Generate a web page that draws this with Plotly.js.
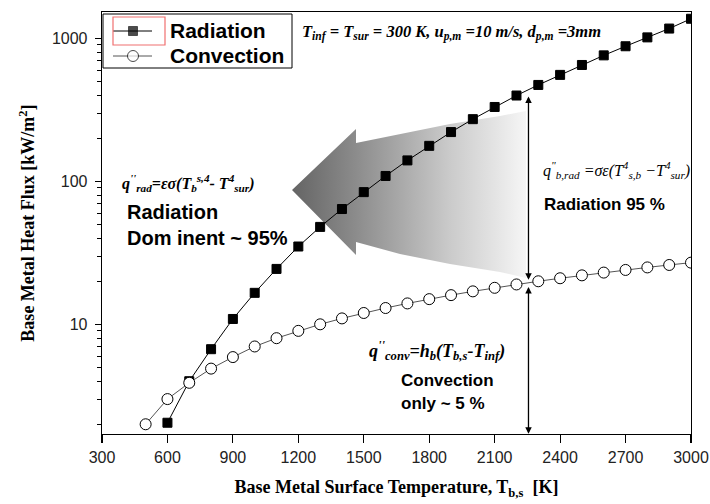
<!DOCTYPE html>
<html><head><meta charset="utf-8">
<script src="https://cdn.plot.ly/plotly-3.0.1.min.js"></script>
<style>html,body{margin:0;padding:0;background:#fff}#chart{width:710px;height:504px}</style>
</head><body><div id="chart"></div>
<script>
// ---- data ----
const radTemps = [600,700,800,900,1000,1100,1200,1300,1400,1500,1600,1700,1800,1900,2000,2100,2200,2300,2400,2500,2600,2700,2800,2900,3000];
const radFlux  = [2.05,4.0,6.7,10.9,16.6,24.4,35,48,64,84,109,140,177,221,272,331,398,472,555,651,760,880,1015,1170,1370];
const convTemps = [500,600,700,800,900,1000,1100,1200,1300,1400,1500,1600,1700,1800,1900,2000,2100,2200,2300,2400,2500,2600,2700,2800,2900,3000];
const convFlux  = [2,3,3.9,4.9,5.9,7,8,9,10,11,12,13,14,15,16,17,18,19,20,21,22,23,24,25,26,27];
const seriesNames = ['Radiation','Convection'];
const xTickVals = [300,600,900,1200,1500,1800,2100,2400,2700,3000];
const yTickVals = [10,100,1000];
const yTickText = ['10','100','1000'];
const yMinorVals = [2,3,4,5,6,7,8,9,20,30,40,50,60,70,80,90,200,300,400,500,600,700,800,900];
const markTemp = 2255;          // temperature of the double arrow
const markRadTop = 402;         // upper end of arrow (near radiation curve)
const markConv = 19.6;          // convection value at the arrow

// ---- layout helpers (plot area in pixels) ----
const L = 102, R = 691, T = 12, B = 434;
const px = x => (x - L) / (R - L);
const py = y => (B - y) / (B - T);
const SERIF = 'Liberation Serif, Times New Roman, serif';
const SANS = 'Liberation Sans, Arial, sans-serif';

// decorative gradient arrow outline in pixel units of the plot area (drawn on hidden base axes)
const arrowX = [292,356,356,400,450,500,526,526,500,450,400,356,356,292];
const arrowY = [190,129,143,134,124,116,111,278,272,264,254,242,255,190];

// legend geometry (pixels)
const legRows = [31, 56];
const legSymX = [113, 133, 152];

const radStyle = {line:{color:'#000', width:1}, marker:{symbol:'square', size:9, color:'#000', line:{color:'#000', width:1}}};
const convStyle = {line:{color:'#555', width:1}, marker:{symbol:'circle', size:11, color:'#fff', line:{color:'#000', width:1}}};

const traces = [
  {x: arrowX, y: arrowY, xaxis:'x', yaxis:'y', mode:'lines', fill:'toself',
   line:{width:0, color:'rgba(0,0,0,0)'},
   fillgradient:{type:'horizontal', start:292, stop:530,
     colorscale:[[0,'rgb(100,100,100)'],[0.27,'rgb(140,140,140)'],[0.45,'rgb(168,168,168)'],[0.66,'rgb(202,202,202)'],[0.87,'rgb(230,230,230)'],[1,'rgb(248,248,248)']]},
   hoverinfo:'skip', showlegend:false},
  // legend symbols
  {x: legSymX, y: [legRows[0],legRows[0],legRows[0]], xaxis:'x', yaxis:'y', mode:'lines+markers', showlegend:false, hoverinfo:'skip',
   line: radStyle.line, marker: Object.assign({}, radStyle.marker, {size:[0,9,0]})},
  {x: legSymX, y: [legRows[1],legRows[1],legRows[1]], xaxis:'x', yaxis:'y', mode:'lines+markers', showlegend:false, hoverinfo:'skip',
   line: convStyle.line, marker: Object.assign({}, convStyle.marker, {size:[0,11,0]})},
  // data
  Object.assign({x: radTemps, y: radFlux, name: seriesNames[0], xaxis:'x2', yaxis:'y2', mode:'lines+markers', showlegend:false}, radStyle),
  Object.assign({x: convTemps, y: convFlux, name: seriesNames[1], xaxis:'x2', yaxis:'y2', mode:'lines+markers', showlegend:false}, convStyle)
];

function txt(x, y, text, font) {
  return {xref:'paper', yref:'paper', x:px(x), y:py(y), xanchor:'left', yanchor:'middle',
    showarrow:false, text:text, font:font};
}
const serifBI = s => ({family:SERIF, size:s, color:'#000', style:'italic', weight:'bold'});
const sansB = s => ({family:SANS, size:s, color:'#000', weight:'bold'});

const annotations = [
  txt(168, legRows[0], seriesNames[0], sansB(21)),
  txt(168, legRows[1], seriesNames[1], sansB(21)),
  txt(300, 32, 'T<sub>inf</sub> = T<sub>sur</sub> = 300 K, u<sub>p,m</sub> =10 m/s, d<sub>p,m</sub> =3mm', serifBI(16.5)),
  txt(120, 183, 'q<sup>\'\'</sup><sub>rad</sub>=εσ(T<sub>b</sub><sup>s,4</sup>- T<sup>4</sup><sub>sur</sub>)', serifBI(16)),
  txt(125, 212, 'Radiation', sansB(20)),
  txt(125, 238, 'Dom inent ~ 95%', sansB(20)),
  txt(541, 170, 'q<sup>"</sup><sub>b,rad</sub> =σε(T<sup>4</sup><sub>s,b</sub> −T<sup>4</sup><sub>sur</sub>)', {family:SERIF, size:16, color:'#000', style:'italic'}),
  txt(542, 204, 'Radiation 95 %', sansB(17)),
  txt(367, 350, 'q<sup>\'\'</sup><sub>conv</sub>=h<sub>b</sub>(T<sub>b,s</sub>-T<sub>inf</sub>)', serifBI(18)),
  txt(399, 380, 'Convection', sansB(17)),
  txt(399, 403, 'only ~ 5 %', sansB(17)),
  // double arrows
  {xref:'x2', yref:'y2', axref:'x2', ayref:'y2', x:markTemp, y:Math.log10(markConv)+0.02, ax:markTemp, ay:Math.log10(markRadTop),
   text:'', showarrow:true, arrowside:'end+start', arrowhead:2, startarrowhead:2, arrowsize:1, startarrowsize:1, arrowwidth:1.3, arrowcolor:'#000', standoff:0, startstandoff:0},
  {xref:'x2', yref:'y2', axref:'x2', ayref:'y2', x:markTemp, y:0.234, ax:markTemp, ay:Math.log10(markConv)-0.02,
   text:'', showarrow:true, arrowside:'end+start', arrowhead:2, startarrowhead:2, arrowsize:1, startarrowsize:1, arrowwidth:1.3, arrowcolor:'#000', standoff:0, startstandoff:0}
];

const layout = {
  width:710, height:504,
  margin:{l:L, r:710-R, t:T, b:504-B, pad:0},
  paper_bgcolor:'#fff', plot_bgcolor:'#fff',
  showlegend:false,
  xaxis:{range:[L, R], visible:false, fixedrange:true, showgrid:false, zeroline:false},
  yaxis:{range:[B, T], visible:false, fixedrange:true, showgrid:false, zeroline:false},
  xaxis2:{overlaying:'x', anchor:'y2', side:'bottom', range:[300,3000], tickmode:'array', tickvals:xTickVals, ticks:'outside', ticklen:8, tickwidth:1.2,
    tickcolor:'#000', showline:true, linecolor:'#000', linewidth:1.3, mirror:true, showgrid:false, zeroline:false,
    tickfont:{family:SANS, size:16, color:'#222'},
    title:{text:'Base Metal Surface Temperature, T<sub>b,s</sub>  [K]', font:{family:SERIF, size:18, color:'#000', weight:'bold'}, standoff:16}},
  yaxis2:{overlaying:'y', anchor:'x2', side:'left', type:'log', range:[0.233, 3.184], tickmode:'array', tickvals:yTickVals, ticktext:yTickText, ticks:'outside', ticklen:6, tickwidth:1.2,
    tickcolor:'#000', showline:true, linecolor:'#000', linewidth:1.3, mirror:true, showgrid:false, zeroline:false,
    tickfont:{family:SANS, size:16, color:'#222'}, ticklabelstandoff:4,
    minor:{tickmode:'array', tickvals:yMinorVals, ticks:'outside', ticklen:4, tickwidth:1, tickcolor:'#000', showgrid:false},
    title:{text:'Base Metal Heat Flux [kW/m<sup>2</sup>]', font:{family:SERIF, size:18, color:'#000', weight:'bold'}, standoff:12}},
  shapes:[
    {type:'rect', xref:'paper', yref:'paper', x0:px(103), x1:px(292), y0:py(68), y1:py(14),
     line:{color:'#000', width:1}, fillcolor:'rgba(0,0,0,0)'},
    {type:'rect', xref:'paper', yref:'paper', x0:px(113), x1:px(165), y0:py(45), y1:py(17),
     line:{color:'#f07070', width:1.2}, fillcolor:'rgba(0,0,0,0)'}],
  annotations: annotations
};

Plotly.newPlot('chart', traces, layout, {staticPlot:true, displayModeBar:false});
</script></body></html>
